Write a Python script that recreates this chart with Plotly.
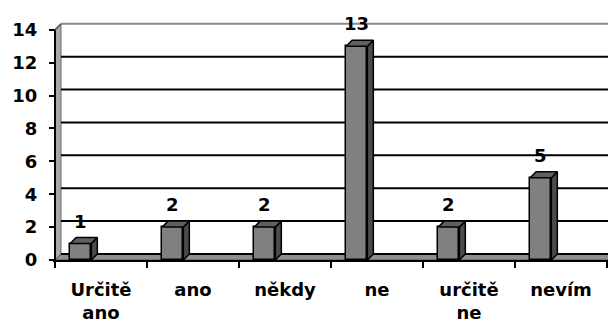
import plotly.graph_objects as go

# Survey answers and counts
categories = ["Určitě<br>ano", "ano", "někdy", "ne", "určitě<br>ne", "nevím"]
counts = [1, 2, 2, 13, 2, 5]
y_ticks = [0, 2, 4, 6, 8, 10, 12, 14]

# Pseudo-3D geometry (category units on x, value units on y)
DX = 0.065          # depth offset along x
DY = 0.365          # depth offset along y
BAR_W = 0.23
BAR_OFF = -0.335    # front face starts this far from the category centre
X_MIN, X_MAX = -0.5 - 2 / 92, -0.5 + 553 / 92
Y_MAX = 14.6
PX_PER_UNIT = 230 / 14
AXIS_BOTTOM = 260   # pixel row of the value 0

FRONT = "#808080"
SIDE = "#4b4b4b"
TOP = "#606060"
FONT = dict(family="DejaVu Sans", size=18, color="black", weight="bold")

fig = go.Figure()

xs = list(range(len(categories)))

# front faces
fig.add_trace(go.Bar(
    x=xs, y=counts, width=BAR_W, offset=BAR_OFF,
    marker=dict(color=FRONT, line=dict(color="black", width=1.5)),
    hoverinfo="skip", showlegend=False,
))

# side and top faces
for i, v in enumerate(counts):
    x0 = i + BAR_OFF
    x1 = x0 + BAR_W
    fig.add_trace(go.Scatter(
        x=[x1, x1 + DX, x1 + DX, x1, x1], y=[0, DY, v + DY, v, 0],
        mode="lines", fill="toself", fillcolor=SIDE,
        line=dict(color="black", width=1.5), hoverinfo="skip", showlegend=False,
    ))
    fig.add_trace(go.Scatter(
        x=[x0, x0 + DX, x1 + DX, x1, x0], y=[v, v + DY, v + DY, v, v],
        mode="lines", fill="toself", fillcolor=TOP,
        line=dict(color="black", width=1.5), hoverinfo="skip", showlegend=False,
    ))
    fig.add_annotation(
        x=x0 + BAR_W / 2, y=v + DY, text=str(v), showarrow=False,
        yanchor="bottom", yshift=4, font=FONT,
    )

shapes = []
# left wall
shapes.append(dict(
    type="path", layer="below", xref="x", yref="y",
    path=f"M -0.5 0 L {-0.5 + DX} {DY} L {-0.5 + DX} {14 + DY} L -0.5 14 Z",
    fillcolor="#a9a9a9", line=dict(color="#6a6a6a", width=1),
))
# floor
shapes.append(dict(
    type="path", layer="below", xref="x", yref="y",
    path=f"M -0.5 0 L {-0.5 + DX} {DY} L {X_MAX + 1} {DY} L {X_MAX + 1} 0 Z",
    fillcolor="#8e8e8e", line=dict(color="#555555", width=1),
))
# back-wall gridlines
for t in y_ticks:
    shapes.append(dict(
        type="line", layer="below", xref="x", yref="y",
        x0=-0.5 + DX, x1=X_MAX + 1, y0=t + DY, y1=t + DY,
        line=dict(color="#8a8a8a" if t == 14 else "black", width=2),
    ))
# wall front edge and top bevel
shapes.append(dict(type="line", layer="below", xref="x", yref="y",
                   x0=-0.5, x1=-0.5, y0=0, y1=14, line=dict(color="black", width=2)))
shapes.append(dict(type="line", layer="below", xref="x", yref="y",
                   x0=-0.5, x1=-0.5 + DX, y0=14, y1=14 + DY,
                   line=dict(color="#555555", width=1.5)))

top_margin = int(round(AXIS_BOTTOM - Y_MAX * PX_PER_UNIT))

fig.update_layout(
    width=608, height=323,
    margin=dict(l=53, r=0, t=top_margin, b=323 - AXIS_BOTTOM),
    paper_bgcolor="white", plot_bgcolor="white",
    shapes=shapes, bargap=0,
    font=FONT,
    xaxis=dict(
        range=[X_MIN, X_MAX], tickmode="array", tickvals=xs, ticktext=categories,
        ticks="", showgrid=False, zeroline=False,
        showline=True, linecolor="black", linewidth=2,
        ticklabelstandoff=12, tickfont=FONT,
        minor=dict(tickmode="array", tickvals=[k - 0.5 for k in range(len(categories) + 1)],
                   ticks="outside", ticklen=6, tickwidth=1.5, tickcolor="black",
                   showgrid=False),
    ),
    yaxis=dict(
        range=[0, Y_MAX], tickmode="array", tickvals=y_ticks,
        ticks="outside", ticklen=6, tickwidth=2, tickcolor="black",
        showgrid=False, zeroline=False, showline=False,
        anchor="free", position=2 / 555,
        ticklabelstandoff=8, tickfont=FONT,
    ),
)

fig.write_html("out.html")
